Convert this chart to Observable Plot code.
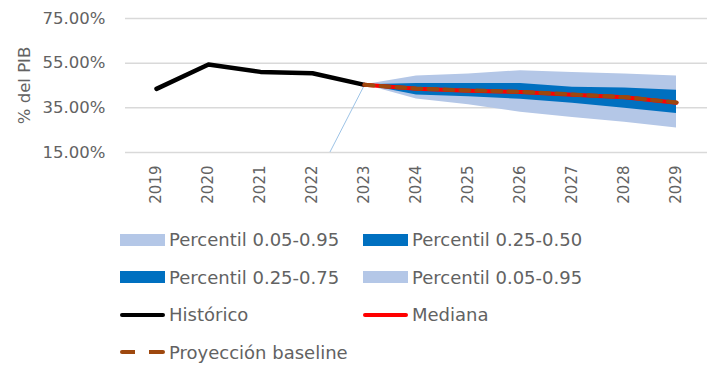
<!DOCTYPE html>
<html><head><meta charset="utf-8">
<script src="https://cdn.jsdelivr.net/npm/d3@7"></script>
<script src="https://cdn.jsdelivr.net/npm/@observablehq/plot@0.6"></script>
<style>
body{margin:0;background:#fff;font-family:"DejaVu Sans",sans-serif;}
#chart{position:relative;width:714px;height:365px;}
#legend{position:absolute;left:120px;top:221px;display:grid;grid-template-columns:243px 260px;row-gap:0;color:#626262;font-size:18px;}
.item{display:flex;align-items:center;height:37.5px;white-space:nowrap;}
.sw{width:45px;height:12px;margin-right:4px;flex:none;}
.ln{width:45px;height:4px;margin-right:4px;flex:none;border-radius:2px;}
</style></head>
<body><div id="chart"></div>
<script>
const years = ["2019","2020","2021","2022","2023","2024","2025","2026","2027","2028","2029"];
const histYears = ["2019","2020","2021","2022","2023"];
const historico = [43.5, 54.4, 51.1, 50.5, 45.3];
const fanYears = ["2023","2024","2025","2026","2027","2028","2029"];
const p05 = [45.3, 39.0, 36.4, 33.0, 30.7, 28.5, 26.0];
const p25 = [45.3, 40.8, 40.0, 38.8, 37.0, 34.8, 32.5];
const p75 = [45.3, 45.9, 45.9, 45.9, 44.2, 43.9, 42.9];
const p95 = [45.3, 49.2, 50.2, 51.6, 50.8, 50.1, 49.3];
const mediana = [45.3, 43.5, 42.7, 42.1, 40.9, 39.7, 37.3];
const baseline = [45.3, 43.6, 42.8, 42.2, 41.0, 39.8, 37.4];
const percLineYears = ["2022","2023"];
const percLine = [0, 45.3];
const yTicks = [15, 35, 55, 75];
const yLabel = "% del PIB";
const legendItems = [
  {label:"Percentil 0.05-0.95", kind:"patch", color:"#B4C7E7"},
  {label:"Percentil 0.25-0.50", kind:"patch", color:"#0070C0"},
  {label:"Percentil 0.25-0.75", kind:"patch", color:"#0070C0"},
  {label:"Percentil 0.05-0.95", kind:"patch", color:"#B4C7E7"},
  {label:"Histórico", kind:"line", color:"#000000"},
  {label:"Mediana", kind:"line", color:"#FF0000"},
  {label:"Proyección baseline", kind:"dash", color:"#9E480E"}
];

const fan = fanYears.map((y,i)=>({year:y,p05:p05[i],p25:p25[i],p75:p75[i],p95:p95[i],med:mediana[i],base:baseline[i]}));
const hist = histYears.map((y,i)=>({year:y,v:historico[i]}));
const pl = percLineYears.map((y,i)=>({year:y,v:percLine[i]}));

const plot = Plot.plot({
  width:714, height:215,
  marginLeft:125, marginRight:7, marginTop:18, marginBottom:63,
  style:{fontFamily:"DejaVu Sans, sans-serif", color:"#626262", background:"#fff"},
  x:{type:"point", domain:years, padding:0.5},
  y:{domain:[15,75]},
  marks:[
    Plot.gridY(yTicks, {stroke:"#D9D9D9", strokeOpacity:1, strokeWidth:1.5}),
    Plot.areaY(fan, {x:"year", y1:"p05", y2:"p95", fill:"#B4C7E7", curve:"linear"}),
    Plot.areaY(fan, {x:"year", y1:"p25", y2:"p75", fill:"#0070C0", curve:"linear"}),
    Plot.line(pl, {x:"year", y:"v", stroke:"#9DC3E6", strokeWidth:1, clip:true}),
    Plot.line(hist, {x:"year", y:"v", stroke:"#000", strokeWidth:4.5}),
    Plot.line(fan, {x:"year", y:"med", stroke:"#FF0000", strokeWidth:4}),
    Plot.line(fan, {x:"year", y:"base", stroke:"#9E480E", strokeWidth:4, strokeDasharray:"9,7"}),
    Plot.axisY(yTicks, {tickSize:0, tickPadding:20, fontSize:16.5, tickFormat:d=>d.toFixed(2)+"%", label:null}),
    Plot.text([yLabel], {frameAnchor:"left", textAnchor:"middle", rotate:-90, dx:-101, fontSize:16.5, fill:"#626262"}),
    Plot.axisX({tickSize:0, tickRotate:-90, tickPadding:13, fontSize:15, label:null})
  ]
});
document.getElementById("chart").appendChild(plot);

const leg = document.createElement("div");
leg.id = "legend";
for (const it of legendItems) {
  const d = document.createElement("div"); d.className="item";
  const s = document.createElement("span");
  if (it.kind==="patch") { s.className="sw"; s.style.background=it.color; }
  else if (it.kind==="line") { s.className="ln"; s.style.background=it.color; }
  else { s.className="ln"; s.style.background=`linear-gradient(to right, ${it.color} 0 15px, transparent 15px 29px, ${it.color} 29px 45px)`; }
  d.appendChild(s);
  const t = document.createElement("span"); t.textContent=it.label; d.appendChild(t);
  leg.appendChild(d);
}
document.getElementById("chart").appendChild(leg);
</script></body></html>
